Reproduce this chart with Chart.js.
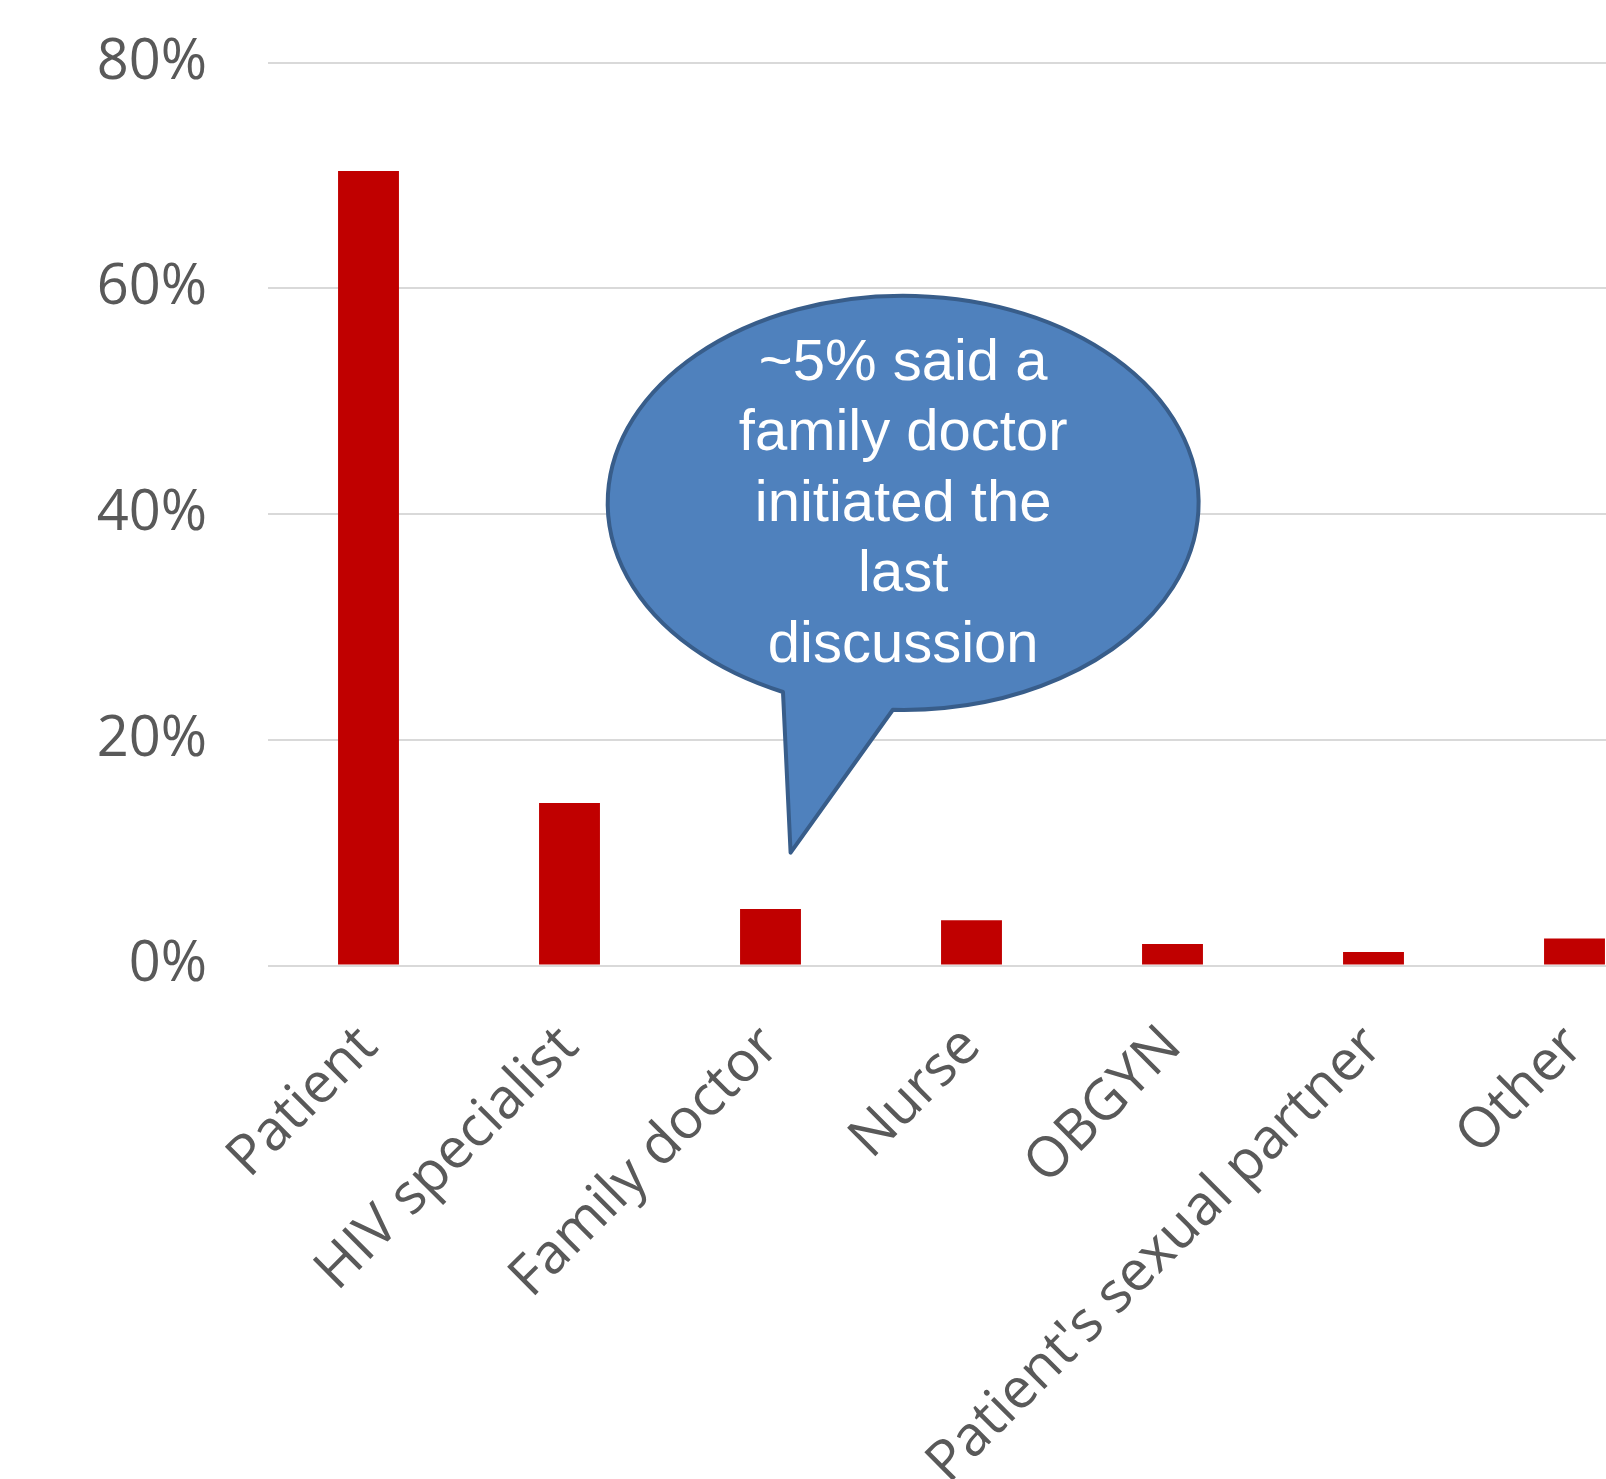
<!DOCTYPE html>
<html lang="en">
<head>
  <meta charset="UTF-8"/>
  <title>Who initiated the last discussion</title>
  <script src="https://cdn.jsdelivr.net/npm/chart.js"></script>
  <style>
    html, body { margin: 0; padding: 0; background: #fff; overflow: hidden; }
    #wrap { position: absolute; left: 0; top: 0; width: 1690px; height: 1479px; }
  </style>
</head>
<body>
  <div id="wrap"><canvas id="chart"></canvas></div>

  <script>
    // data
    const categories = ['Patient', 'HIV specialist', 'Family doctor', 'Nurse', 'OBGYN', "Patient's sexual partner", 'Other'];
    const shares = [70.4, 14.4, 5.0, 4.0, 1.9, 1.2, 2.4];
    const yTicks = [0, 20, 40, 60, 80];
    const calloutLines = ['~5% said a', 'family doctor', 'initiated the', 'last', 'discussion'];

    const grey = '#595959';

    // speech bubble, placed through the scales
    const callout = {
      id: 'callout',
      afterDraw(chart) {
        const x = chart.scales.x, y = chart.scales.y, ctx = chart.ctx;
        const cw = x.getPixelForValue(1) - x.getPixelForValue(0);
        const cx = x.getPixelForValue(2) + 0.66 * cw;
        const cy = y.getPixelForValue(41);
        const rx = 1.47 * cw;
        const ry = y.getPixelForValue(0) - y.getPixelForValue(18.35);
        const tipX = x.getPixelForValue(2) + 0.1 * cw;
        const tipY = y.getPixelForValue(10);
        const a1 = 114 * Math.PI / 180, a2 = 92 * Math.PI / 180;

        ctx.save();
        ctx.beginPath();
        ctx.ellipse(cx, cy, rx, ry, 0, a1, a2 + 2 * Math.PI, false);
        ctx.lineTo(tipX, tipY);
        ctx.closePath();
        ctx.fillStyle = '#4F81BD';
        ctx.fill();
        ctx.lineWidth = 4;
        ctx.strokeStyle = '#385D8A';
        ctx.lineJoin = 'round';
        ctx.stroke();

        ctx.fillStyle = '#fff';
        ctx.font = '58px "Liberation Sans", Arial, sans-serif';
        ctx.textAlign = 'center';
        ctx.textBaseline = 'middle';
        const lh = 70.4;
        const y0 = cy - lh * (calloutLines.length - 1) / 2;
        calloutLines.forEach((t, i) => ctx.fillText(t, cx, y0 + i * lh + 2));
        ctx.restore();
      }
    };

    const ctx = document.getElementById('chart').getContext('2d');
    new Chart(ctx, {
      type: 'bar',
      data: {
        labels: categories,
        datasets: [{
          data: shares,
          backgroundColor: '#C00000',
          barPercentage: 0.303,
          categoryPercentage: 1.0
        }]
      },
      options: {
        responsive: true,
        maintainAspectRatio: false,
        animation: false,
        layout: { padding: { left: 0, right: 15, top: 62.7, bottom: 0 } },
        plugins: { legend: { display: false }, tooltip: { enabled: false } },
        scales: {
          x: {
            grid: { display: false },
            border: { display: false },
            ticks: {
              color: grey,
              font: { family: '"Open Sans", sans-serif', size: 56 },
              minRotation: 45,
              maxRotation: 45,
              autoSkip: false,
              padding: 40
            },
            afterFit: s => { s.height = 513.5; s.paddingLeft = 0; s.paddingRight = 0; }
          },
          y: {
            min: 0,
            max: 80,
            afterBuildTicks: s => { s.ticks = yTicks.map(v => ({ value: v })); },
            grid: { color: '#d9d9d9', lineWidth: 2, drawTicks: false },
            border: { display: false },
            ticks: {
              color: grey,
              font: { family: '"Open Sans", sans-serif', size: 56 },
              padding: 61,
              callback: v => v + '%'
            },
            afterFit: s => { s.width = 268; s.paddingTop = 0; s.paddingBottom = 0; }
          }
        }
      },
      plugins: [callout]
    });
  </script>
</body>
</html>
